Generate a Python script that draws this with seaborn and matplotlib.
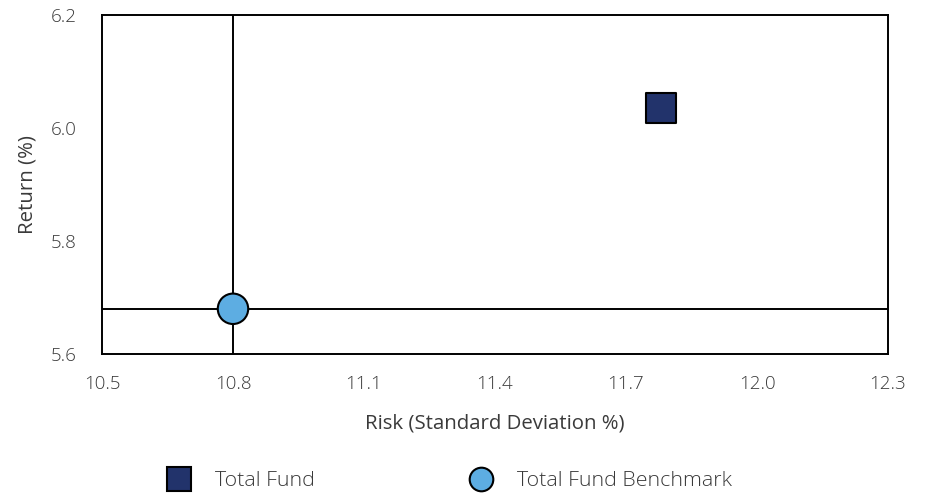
import pandas as pd
import matplotlib
matplotlib.use("Agg")
import matplotlib.pyplot as plt
import seaborn as sns

# values
names = ["Total Fund", "Total Fund Benchmark"]
risk = [11.78, 10.80]
ret = [6.035, 5.68]
colors = ["#22336B", "#5DADE2"]
marker_shapes = ["s", "o"]

x_ticks = [10.5, 10.8, 11.1, 11.4, 11.7, 12.0, 12.3]
y_ticks = [5.6, 5.8, 6.0, 6.2]

df = pd.DataFrame({"Name": names, "Risk": risk, "Return": ret})

sns.set_style("white")
plt.rcParams["font.family"] = ["Open Sans", "DejaVu Sans"]
plt.rcParams["font.weight"] = "light"
plt.rcParams["text.color"] = "#3a3a3a"
plt.rcParams["axes.labelcolor"] = "#3a3a3a"

fig = plt.figure(figsize=(9.28, 4.96), dpi=100)
ax = fig.add_axes([0.1099, 0.2863, 0.847, 0.6835])

# crosshair through the benchmark point
ax.axvline(risk[1], color="black", lw=1.4, zorder=1)
ax.axhline(ret[1], color="black", lw=1.4, zorder=1)

sns.scatterplot(data=df, x="Risk", y="Return", hue="Name", style="Name",
                palette=dict(zip(names, colors)),
                markers=dict(zip(names, marker_shapes)),
                s=480, edgecolor="black", linewidth=1.5, ax=ax, zorder=3,
                legend=False)

ax.set_xlim(x_ticks[0], x_ticks[-1])
ax.set_ylim(y_ticks[0], y_ticks[-1])
ax.set_xticks(x_ticks)
ax.set_yticks(y_ticks)
ax.set_xticklabels([f"{t:.1f}" for t in x_ticks])
ax.set_yticklabels([f"{t:.1f}" for t in y_ticks])
ax.tick_params(axis="both", length=7, width=1.2, color="#d9d9d9",
               labelsize=13.5, labelcolor="#3a3a3a")
ax.tick_params(axis="x", pad=8)
ax.tick_params(axis="y", pad=11)

for sp in ax.spines.values():
    sp.set_visible(True)
    sp.set_color("black")
    sp.set_linewidth(1.4)

ax.set_xlabel("Risk (Standard Deviation %)", fontsize=14.7, labelpad=15)
ax.set_ylabel("Return (%)", fontsize=14.7, labelpad=10)

handles = [
    plt.Line2D([], [], marker=m, linestyle="none", markersize=17,
               markerfacecolor=c, markeredgecolor="black", markeredgewidth=1.5)
    for m, c in zip(marker_shapes, colors)
]
fig.legend(handles, names, loc="center left",
           bbox_to_anchor=(158 / 928, 1 - 481 / 496),
           ncol=2, frameon=False, fontsize=15.4, columnspacing=6.8,
           handletextpad=0.65, borderpad=0, borderaxespad=0)

fig.savefig("out.png", dpi=100)
